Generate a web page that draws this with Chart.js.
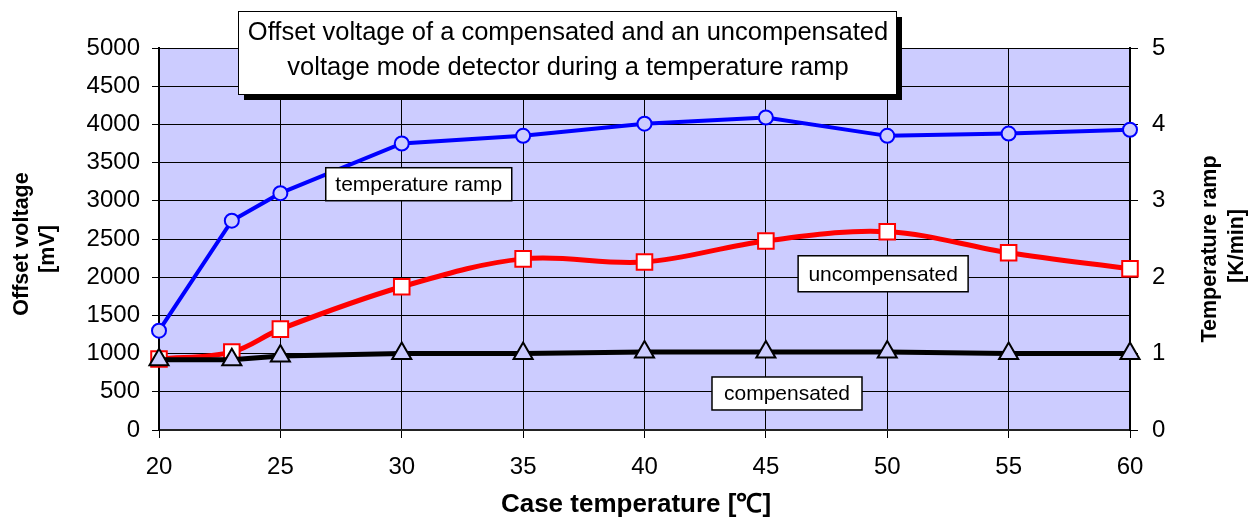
<!DOCTYPE html>
<html>
<head>
<meta charset="utf-8">
<script src="https://cdn.jsdelivr.net/npm/chart.js@4/dist/chart.umd.min.js"></script>
<style>
  html, body { margin: 0; padding: 0; background: #ffffff; }
  #wrap { width: 1248px; height: 519px; }
</style>
</head>
<body>
<div id="wrap"><canvas id="c" width="1248" height="519"></canvas></div>
<script>
// ---- data ----
const caseTemps = [20, 23, 25, 30, 35, 40, 45, 50, 55, 60];
const rampKmin = [1.30, 2.74, 3.10, 3.75, 3.85, 4.01, 4.09, 3.85, 3.88, 3.93];
const uncompensatedMv = [930, 1020, 1320, 1875, 2240, 2200, 2475, 2595, 2320, 2110];
const compensatedMv = [920, 920, 970, 1000, 1000, 1020, 1020, 1020, 1000, 1000];
const titleLines = ['Offset voltage of a compensated and an uncompensated', 'voltage mode detector during a temperature ramp'];
const seriesLabels = ['temperature ramp', 'uncompensated', 'compensated'];
const xTitle = 'Case temperature [\u2103]';
const yTitleLines = ['Offset voltage', '[mV]'];
const y2TitleLines = ['Temperature ramp', '[K/min]'];
// label anchors in data coordinates [x, mV]
const labelAnchors = [[30.7, 3217], [49.83, 2045], [45.87, 478]];

const FONT = '"Liberation Sans", Arial, sans-serif';
const BG = '#ccccff';

function pts(ys) { return caseTemps.map((x, i) => ({ x: x, y: ys[i] })); }

const plotBg = {
  id: 'plotBg',
  beforeDraw(chart) {
    const { ctx, chartArea: a } = chart;
    ctx.save();
    ctx.fillStyle = BG;
    ctx.fillRect(a.left, a.top, a.right - a.left, a.bottom - a.top);
    ctx.restore();
  },
  afterDraw(chart) {
    const { ctx } = chart;
    ctx.save();
    ctx.textAlign = 'center';
    ctx.textBaseline = 'middle';
    // axis titles
    ctx.fillStyle = '#000';
    ctx.font = 'bold 21.5px ' + FONT;
    const vtext = (t, x, y) => {
      ctx.save();
      ctx.translate(x, y);
      ctx.rotate(-Math.PI / 2);
      ctx.fillText(t, 0, 0);
      ctx.restore();
    };
    vtext(yTitleLines[0], 22, 244);
    vtext(yTitleLines[1], 48, 249);
    vtext(y2TitleLines[0], 1210, 249);
    vtext(y2TitleLines[1], 1237, 246);
    ctx.font = 'bold 26px ' + FONT;
    ctx.fillText(xTitle, 636, 505);

    // series labels
    ctx.font = '21px ' + FONT;
    const boxes = [[186, 33], [170, 36], [150, 33]];
    seriesLabels.forEach((t, i) => {
      const cx = chart.scales.x.getPixelForValue(labelAnchors[i][0]);
      const cy = chart.scales.y.getPixelForValue(labelAnchors[i][1]);
      const [w, h] = boxes[i];
      ctx.fillStyle = '#ffffff';
      ctx.fillRect(cx - w / 2, cy - h / 2, w, h);
      ctx.strokeStyle = '#000000';
      ctx.lineWidth = 1.5;
      ctx.strokeRect(cx - w / 2, cy - h / 2, w, h);
      ctx.fillStyle = '#000000';
      ctx.fillText(t, cx, cy + 1);
    });
    // title box
    const tx = 238, ty = 11, tw = 658, th = 83;
    ctx.fillStyle = '#000000';
    ctx.fillRect(tx + 6, ty + 6, tw, th);
    ctx.fillStyle = '#ffffff';
    ctx.fillRect(tx, ty, tw, th);
    ctx.strokeStyle = '#000000';
    ctx.lineWidth = 1;
    ctx.strokeRect(tx + 0.5, ty + 0.5, tw, th);
    ctx.fillStyle = '#000000';
    ctx.font = '25.5px ' + FONT;
    ctx.fillText(titleLines[0], tx + tw / 2 + 1, ty + 22);
    ctx.fillText(titleLines[1], tx + tw / 2 + 1, ty + 57);
    ctx.restore();
  }
};

const plain = v => String(v);

new Chart(document.getElementById('c'), {
  type: 'line',
  data: {
    datasets: [
      {
        label: seriesLabels[2], data: pts(compensatedMv), yAxisID: 'y', order: 0, clip: false,
        borderColor: '#000000', borderWidth: 5, tension: 0,
        pointStyle: 'triangle', pointRadius: 11, pointBorderWidth: 2,
        pointBorderColor: '#000000', pointBackgroundColor: BG
      },
      {
        label: seriesLabels[1], data: pts(uncompensatedMv), yAxisID: 'y', order: 1, clip: false,
        borderColor: '#ff0000', borderWidth: 5, tension: 0.35,
        pointStyle: 'rect', pointRadius: 11, pointBorderWidth: 2,
        pointBorderColor: '#ff0000', pointBackgroundColor: '#ffffff'
      },
      {
        label: seriesLabels[0], data: pts(rampKmin), yAxisID: 'y2', order: 2, clip: false,
        borderColor: '#0000ff', borderWidth: 4, tension: 0,
        pointStyle: 'circle', pointRadius: 7, pointBorderWidth: 2,
        pointBorderColor: '#0000ff', pointBackgroundColor: BG
      }
    ]
  },
  options: {
    responsive: false,
    animation: false,
    layout: { padding: { top: 48, right: 0, bottom: 0, left: 0 } },
    plugins: { legend: { display: false }, tooltip: { enabled: false }, title: { display: false } },
    scales: {
      x: {
        type: 'linear', min: 20, max: 60,
        ticks: { stepSize: 5, color: '#000', font: { family: FONT, size: 24 }, padding: 15, callback: plain },
        grid: { color: '#000', lineWidth: 1, tickLength: 8, drawTicks: true },
        border: { color: '#222', width: 2 },
        afterFit(s) { s.height = 89; }
      },
      y: {
        position: 'left', min: 0, max: 5000,
        ticks: { stepSize: 500, color: '#000', font: { family: FONT, size: 24 }, padding: 12, callback: plain },
        grid: { color: '#000', lineWidth: 1, tickLength: 7 },
        border: { color: '#000', width: 2 },
        afterFit(s) { s.width = 159; }
      },
      y2: {
        position: 'right', min: 0, max: 5,
        ticks: { stepSize: 1, color: '#000', font: { family: FONT, size: 24 }, padding: 14, callback: plain },
        grid: { drawOnChartArea: false, color: '#000', lineWidth: 1, tickLength: 8 },
        border: { color: '#000', width: 2 },
        afterFit(s) { s.width = 118; }
      }
    }
  },
  plugins: [plotBg]
});
</script>
</body>
</html>
